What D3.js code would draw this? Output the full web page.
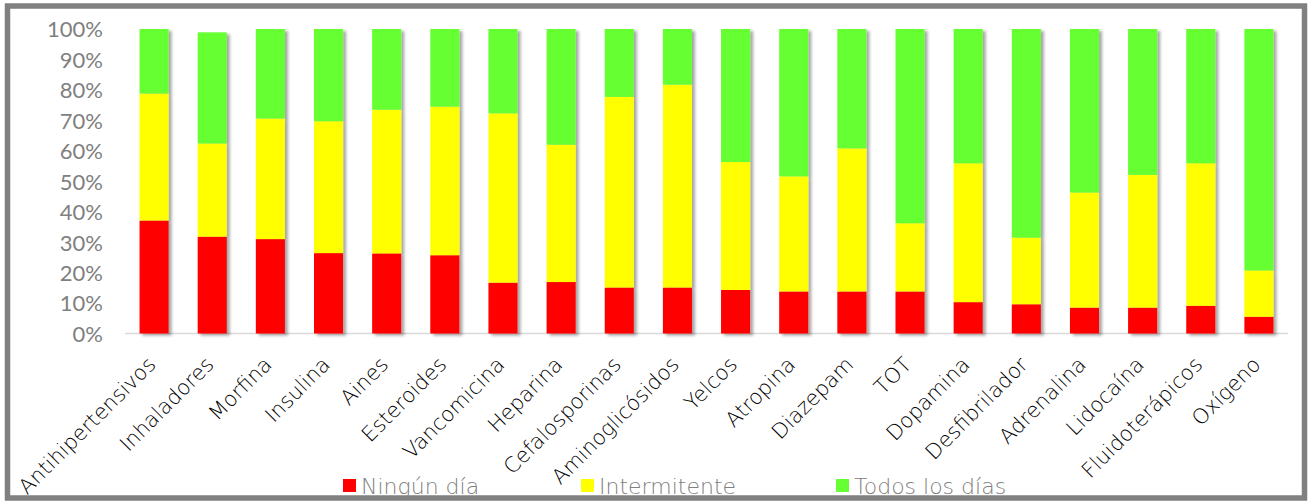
<!DOCTYPE html>
<meta charset="utf-8">
<head>
<script src="https://d3js.org/d3.v7.min.js"></script>
<style>
body { margin: 0; background: #fff; }
svg { display: block; font-family: "DejaVu Sans", sans-serif; }
</style>
</head>
<body>
<div id="chart"></div>

<script>
// data (percent)
var categories = ["Antihipertensivos", "Inhaladores", "Morfina", "Insulina", "Aines",
  "Esteroides", "Vancomicina", "Heparina", "Cefalosporinas", "Aminoglicósidos",
  "Yelcos", "Atropina", "Diazepam", "TOT", "Dopamina", "Desfibrilador",
  "Adrenalina", "Lidocaína", "Fluidoterápicos", "Oxígeno"];
var ningunDia    = [37.1, 31.8, 31.0, 26.4, 26.3, 25.7, 16.7, 16.9, 15.1, 15.1, 14.3, 13.8, 13.8, 13.8, 10.3, 9.6, 8.5, 8.5, 9.1, 5.5];
var intermitente = [41.7, 30.6, 39.6, 43.3, 47.2, 48.8, 55.6, 45.1, 62.6, 66.6, 42.0, 37.8, 47.0, 22.4, 45.6, 21.9, 37.8, 43.6, 46.8, 15.2];
var todosLosDias = [21.2, 36.5, 29.4, 30.3, 26.5, 25.5, 27.7, 38.0, 22.3, 18.3, 43.7, 48.4, 39.2, 63.8, 44.1, 68.5, 53.7, 47.9, 44.1, 79.3];
var seriesNames  = ["Ningún día", "Intermitente", "Todos los días"];
var seriesColors = ["#ff0000", "#ffff00", "#66ff33"];
var yTicks = [0, 10, 20, 30, 40, 50, 60, 70, 80, 90, 100];

var W = 1314, H = 503;
var svg = d3.select("#chart").append("svg").attr("width", W).attr("height", H);

// shadow for bars
var defs = svg.append("defs");
var f = defs.append("filter").attr("id", "shadow")
  .attr("x", "-20%").attr("y", "-5%").attr("width", "160%").attr("height", "115%");
f.append("feDropShadow").attr("dx", 3).attr("dy", 2).attr("stdDeviation", 1.6)
  .attr("flood-color", "#000").attr("flood-opacity", 0.35);

// outer frame
svg.append("rect").attr("x", 7.5).attr("y", 6).attr("width", 1297).attr("height", 492)
  .attr("fill", "#fff").attr("stroke", "#808080").attr("stroke-width", 5.5);

var x = d3.scaleBand().domain(categories).range([125, 1288]).paddingInner(0.5).paddingOuter(0.25);
var y = d3.scaleLinear().domain([0, 100]).range([333.5, 29]);

var rows = categories.map(function (c, i) {
  return { cat: c, a: ningunDia[i], b: intermitente[i], c: todosLosDias[i] };
});
var stack = d3.stack().keys(["a", "b", "c"]);
var layers = stack(rows);

// y axis labels
var yAxis = d3.axisLeft(y).tickValues(yTicks).tickFormat(function (d) { return d + "%"; })
  .tickSize(0).tickPadding(0);
var gy = svg.append("g").attr("transform", "translate(103,0)").call(yAxis);
gy.select(".domain").remove();
gy.selectAll("text").attr("fill", "#808080").style("font-size", "22px")
  .style("font-family", "Lato, sans-serif").attr("dy", "0.36em");

// baseline
svg.append("line").attr("x1", 125).attr("x2", 1288).attr("y1", y(0)).attr("y2", y(0))
  .attr("stroke", "#d9d9d9").attr("stroke-width", 1.5);

// bars
var bars = svg.append("g").attr("filter", "url(#shadow)");
layers.forEach(function (layer, k) {
  bars.selectAll(null).data(layer).enter().append("rect")
    .attr("x", function (d) { return x(d.data.cat); })
    .attr("width", x.bandwidth())
    .attr("y", function (d) { return y(d[1]); })
    .attr("height", function (d) { return y(d[0]) - y(d[1]); })
    .attr("fill", seriesColors[k]);
});

// category labels
var xAxis = d3.axisBottom(x).tickSize(0).tickPadding(0);
var gx = svg.append("g").attr("transform", "translate(-8,355)").call(xAxis);
gx.select(".domain").remove();
gx.selectAll("text")
  .attr("fill", "#000")
  .attr("y", 0)
  .style("font-size", "21px")
  .style("font-weight", "300")
  .style("font-family", "DejaVu Sans, sans-serif")
  .attr("text-anchor", "end")
  .attr("dy", "0.73em")
  .attr("transform", "rotate(-45)");

// legend
var legX = [343, 581, 836];
var leg = svg.append("g");
seriesNames.forEach(function (n, i) {
  leg.append("rect").attr("x", legX[i]).attr("y", 479).attr("width", 13).attr("height", 13)
    .attr("fill", seriesColors[i]);
  leg.append("text").attr("x", legX[i] + 18).attr("y", 486).attr("dy", "0.36em")
    .attr("fill", "#808080").style("font-size", "22px").style("font-weight", "300").text(n);
});
</script>
</body>
